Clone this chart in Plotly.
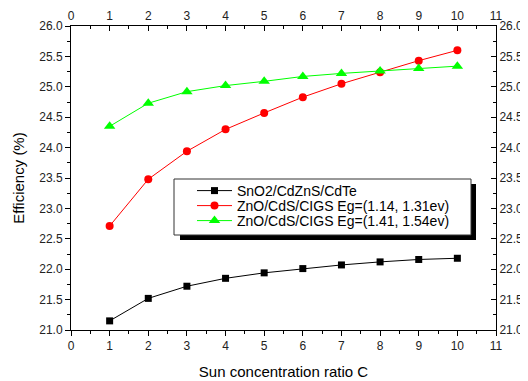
import plotly.graph_objects as go

x_vals = [1, 2, 3, 4, 5, 6, 7, 8, 9, 10]
sno2_cdzns_cdte = [21.15, 21.52, 21.72, 21.85, 21.94, 22.01, 22.07, 22.12, 22.16, 22.18]
cigs_114_131 = [22.71, 23.48, 23.94, 24.30, 24.57, 24.83, 25.05, 25.24, 25.43, 25.60]
cigs_141_154 = [24.35, 24.73, 24.92, 25.02, 25.09, 25.17, 25.22, 25.26, 25.30, 25.34]

names = ["SnO2/CdZnS/CdTe",
         "ZnO/CdS/CIGS Eg=(1.14, 1.31ev)",
         "ZnO/CdS/CIGS Eg=(1.41, 1.54ev)"]

x_ticks = list(range(0, 12))
y_ticks = [21.0, 21.5, 22.0, 22.5, 23.0, 23.5, 24.0, 24.5, 25.0, 25.5, 26.0]
y_ticklabels = [f"{v:.1f}" for v in y_ticks]

FONT = "Liberation Sans, Arial, sans-serif"

# page offset of the figure (default body margin)
OFF = 8
PAGE_W, PAGE_H = 528, 381
# plot area in page px
L, R, T, B = 71, 496, 26, 330
W, H = R - L, B - T


def px_x(p):
    return (p - L) / W


def px_y(p):
    return (B - p) / H


fig = go.Figure()
fig.add_trace(go.Scatter(x=x_vals, y=sno2_cdzns_cdte, name=names[0], mode="lines+markers",
                         line=dict(color="black", width=1), legend="legend",
                         marker=dict(symbol="square", size=7, color="black")))
fig.add_trace(go.Scatter(x=x_vals, y=cigs_114_131, name=names[1], mode="lines+markers",
                         line=dict(color="#ff0000", width=1), legend="legend2",
                         marker=dict(symbol="circle", size=8, color="#ff0000")))
fig.add_trace(go.Scatter(x=x_vals, y=cigs_141_154, name=names[2], mode="lines+markers",
                         line=dict(color="#00ff00", width=1), legend="legend3",
                         marker=dict(symbol="triangle-up", size=10, color="#00ff00")))
# invisible trace to activate the mirror axes
fig.add_trace(go.Scatter(x=[None], y=[None], xaxis="x2", yaxis="y2", showlegend=False,
                         hoverinfo="skip"))

tickfont = dict(family=FONT, size=12, color="#222222")
common = dict(showgrid=False, zeroline=False, showline=True, linecolor="black", linewidth=1,
              tickcolor="black", ticklen=5, tickwidth=1, tickfont=tickfont, automargin=False)


def leg(ypix):
    return dict(x=px_x(192), y=px_y(ypix), xanchor="left", yanchor="middle",
                bgcolor="rgba(0,0,0,0)", borderwidth=0,
                font=dict(family=FONT, size=14, color="black"), itemwidth=35)


fig.update_layout(
    width=PAGE_W - OFF, height=PAGE_H - OFF,
    margin=dict(l=L - OFF, r=PAGE_W - R, t=T - OFF, b=PAGE_H - B, autoexpand=False),
    paper_bgcolor="white", plot_bgcolor="white",
    font=dict(family=FONT, color="black"),
    xaxis=dict(range=[0, 11], tickvals=x_ticks, ticks="outside",
               minor=dict(dtick=0.5, ticks="outside", ticklen=3, tickcolor="black"),
               title=dict(text="Sun concentration ratio C", font=dict(family=FONT, size=15), standoff=14),
               **common),
    xaxis2=dict(range=[0, 11], tickvals=x_ticks, ticks="inside", side="top", overlaying="x",
                anchor="y", minor=dict(dtick=0.5, ticks="inside", ticklen=3, tickcolor="black"),
                **common),
    yaxis=dict(range=[21, 26], tickvals=y_ticks, ticktext=y_ticklabels, ticks="outside",
               minor=dict(dtick=0.25, ticks="outside", ticklen=3, tickcolor="black"),
               title=dict(text="Efficiency (%)", font=dict(family=FONT, size=15), standoff=10),
               **common),
    yaxis2=dict(range=[21, 26], tickvals=y_ticks, ticktext=y_ticklabels, ticks="inside",
                side="right", overlaying="y", anchor="x",
                minor=dict(dtick=0.25, ticks="inside", ticklen=3, tickcolor="black"),
                **common),
    legend=leg(191),
    legend2=leg(206),
    legend3=leg(221),
    shapes=[
        # shadow
        dict(type="rect", xref="paper", yref="paper", layer="above",
             x0=px_x(180), x1=px_x(476), y0=px_y(240), y1=px_y(235),
             fillcolor="black", line=dict(width=0)),
        dict(type="rect", xref="paper", yref="paper", layer="above",
             x0=px_x(471), x1=px_x(476), y0=px_y(240), y1=px_y(184),
             fillcolor="black", line=dict(width=0)),
        # box
        dict(type="rect", xref="paper", yref="paper", layer="above",
             x0=px_x(174), x1=px_x(471), y0=px_y(235), y1=px_y(179),
             fillcolor="white", line=dict(color="#333333", width=1)),
    ],
)

fig.write_html("out.html")
